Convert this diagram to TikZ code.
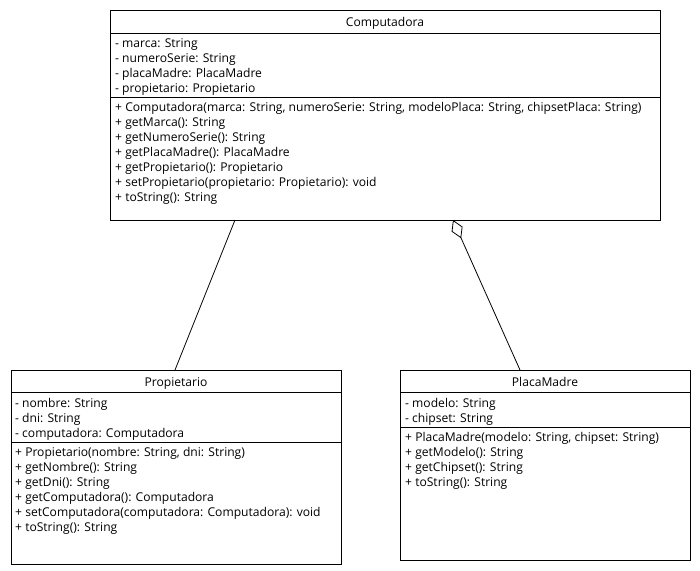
\documentclass[tikz,border=0pt]{standalone}
\usepackage{fontspec}
\setmainfont{Open Sans}
\usetikzlibrary{arrows.meta}
\begin{document}
\begin{tikzpicture}[x=1pt,y=-1pt,
  classbox/.style={draw, line width=0.9pt, anchor=north west, inner sep=0pt},
  member/.style={anchor=base west, inner sep=0pt, font=\fontsize{12.1}{14}\selectfont},
  title/.style={anchor=base, inner sep=0pt, font=\fontsize{12.1}{14}\selectfont},
  sep/.style={line width=0.9pt},
  link/.style={line width=0.8pt}]
\useasboundingbox (0,0) rectangle (700,570);

% Computadora
\node[classbox, minimum width=550pt, minimum height=210pt] (comp) at (110,10) {};
\draw[sep] (110,33) -- (660,33);
\draw[sep] (110,97) -- (660,97);
\node[title] (compT) at (385,26) {Computadora};
\node[member] (ca1) at (115,47.5) {- marca: String};
\node[member] (ca2) at (115,62.5) {- numeroSerie: String};
\node[member] (ca3) at (115,77.5) {- placaMadre: PlacaMadre};
\node[member] (ca4) at (115,92.5) {- propietario: Propietario};
\node[member] (cm1) at (115,111.5) {+ Computadora(marca: String, numeroSerie: String, modeloPlaca: String, chipsetPlaca: String)};
\node[member] (cm2) at (115,126.5) {+ getMarca(): String};
\node[member] (cm3) at (115,141.5) {+ getNumeroSerie(): String};
\node[member] (cm4) at (115,156.5) {+ getPlacaMadre(): PlacaMadre};
\node[member] (cm5) at (115,171.5) {+ getPropietario(): Propietario};
\node[member] (cm6) at (115,186.5) {+ setPropietario(propietario: Propietario): void};
\node[member] (cm7) at (115,201.5) {+ toString(): String};

% Propietario
\node[classbox, minimum width=330pt, minimum height=194pt] (prop) at (11,370) {};
\draw[sep] (11,392) -- (341,392);
\draw[sep] (11,442) -- (341,442);
\node[title] (propT) at (176,386) {Propietario};
\node[member] (pa1) at (15,407.5) {- nombre: String};
\node[member] (pa2) at (15,422.5) {- dni: String};
\node[member] (pa3) at (15,437.5) {- computadora: Computadora};
\node[member] (pm1) at (15,456.5) {+ Propietario(nombre: String, dni: String)};
\node[member] (pm2) at (15,471.5) {+ getNombre(): String};
\node[member] (pm3) at (15,486.5) {+ getDni(): String};
\node[member] (pm4) at (15,501.5) {+ getComputadora(): Computadora};
\node[member] (pm5) at (15,516.5) {+ setComputadora(computadora: Computadora): void};
\node[member] (pm6) at (15,531.5) {+ toString(): String};

% PlacaMadre
\node[classbox, minimum width=290pt, minimum height=190pt] (placa) at (400,370) {};
\draw[sep] (400,392) -- (690,392);
\draw[sep] (400,427) -- (690,427);
\node[title] (placaT) at (545,386) {PlacaMadre};
\node[member] (la1) at (405,407.5) {- modelo: String};
\node[member] (la2) at (405,422.5) {- chipset: String};
\node[member] (lm1) at (405,441.5) {+ PlacaMadre(modelo: String, chipset: String)};
\node[member] (lm2) at (405,456.5) {+ getModelo(): String};
\node[member] (lm3) at (405,471.5) {+ getChipset(): String};
\node[member] (lm4) at (405,486.5) {+ toString(): String};

% association and aggregation
\coordinate (compL) at (235,220);
\coordinate (propTop) at (175,370);
\coordinate (compR) at (453,220);
\coordinate (placaTop) at (520,370);
\draw[link] (compL) -- (propTop);
\draw[link, {Diamond[open, length=20pt, width=12pt, line width=0.8pt]}-] (compR) -- (placaTop);
\end{tikzpicture}
\end{document}
